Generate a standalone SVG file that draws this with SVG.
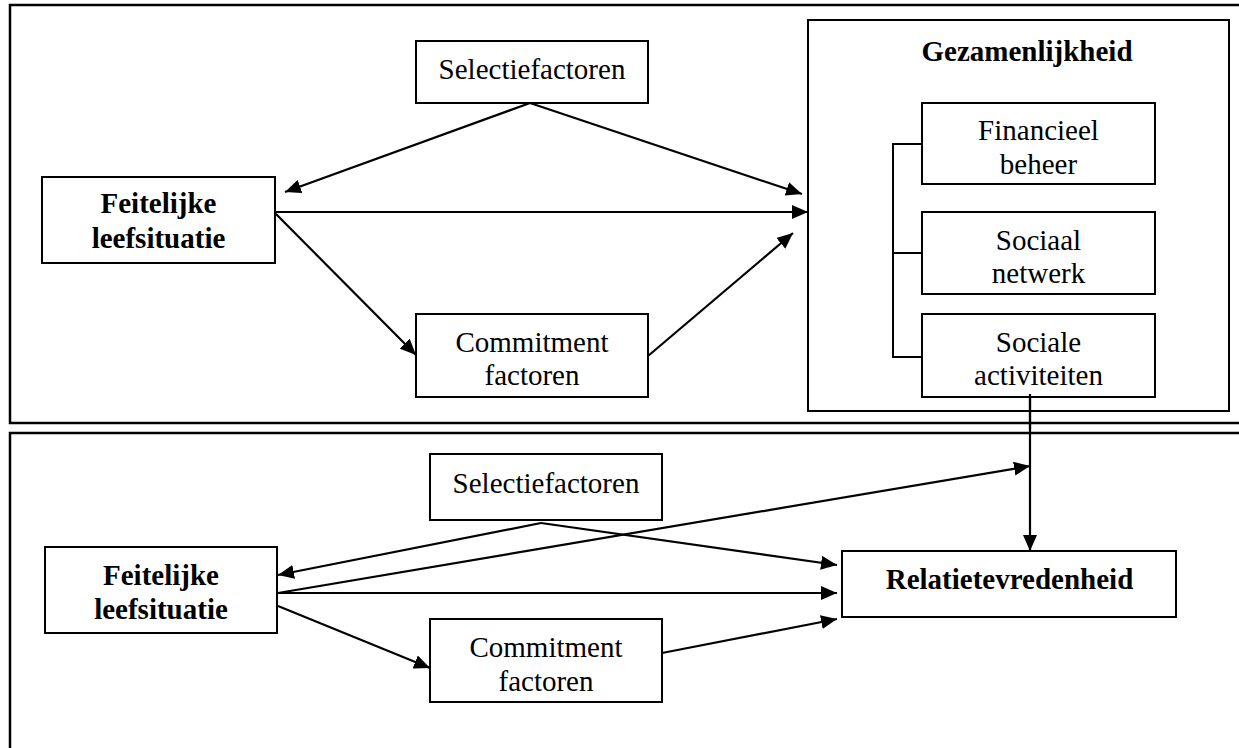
<svg xmlns="http://www.w3.org/2000/svg" width="1239" height="748" viewBox="0 0 1239 748">
<style>
  .panel { fill: none; stroke: #000; stroke-width: 2.5; }
  .box { fill: #fff; stroke: #000; stroke-width: 2; }
  .gbox { fill: none; stroke: #000; stroke-width: 2; }
  .t { font-family: "Liberation Serif", "Times New Roman", serif; font-size: 29px; fill: #000; text-anchor: middle; }
  .b { font-weight: bold; }
  .c { fill: none; stroke: #000; stroke-width: 2.2; }
  .br { fill: none; stroke: #000; stroke-width: 2; }
</style>
<defs>
  <marker id="ah" markerUnits="userSpaceOnUse" markerWidth="17" markerHeight="14" refX="16" refY="7" orient="auto">
    <path d="M0,0 L16,7 L0,14 z" fill="#000"/>
  </marker>
</defs>
<rect width="1239" height="748" fill="#fff"/>

<g id="panel-top"><rect class="panel" x="10" y="5" width="1245" height="418"/></g>
<g id="panel-bottom"><rect class="panel" x="10" y="433" width="1245" height="330"/></g>

<g id="connectors">
  <!-- top panel -->
  <line class="c" x1="530" y1="103" x2="285" y2="192" marker-end="url(#ah)"/>
  <line class="c" x1="530" y1="103" x2="802" y2="194" marker-end="url(#ah)"/>
  <line class="c" x1="275" y1="212" x2="808" y2="212" marker-end="url(#ah)"/>
  <line class="c" x1="275" y1="213" x2="416" y2="355" marker-end="url(#ah)"/>
  <line class="c" x1="648" y1="356" x2="793" y2="233" marker-end="url(#ah)"/>
  <!-- bracket -->
  <polyline class="br" points="922,144 893,144 893,357 922,357"/>
  <line class="br" x1="893" y1="253" x2="922" y2="253"/>
  <!-- vertical to Relatietevredenheid -->
  <line class="c" x1="1030" y1="394" x2="1030" y2="551" marker-end="url(#ah)"/>
  <!-- bottom panel -->
  <line class="c" x1="541" y1="523" x2="278" y2="575" marker-end="url(#ah)"/>
  <line class="c" x1="541" y1="523" x2="837" y2="565" marker-end="url(#ah)"/>
  <line class="c" x1="278" y1="593" x2="837" y2="593" marker-end="url(#ah)"/>
  <line class="c" x1="278" y1="593" x2="1030" y2="466" marker-end="url(#ah)"/>
  <line class="c" x1="278" y1="606" x2="430" y2="668" marker-end="url(#ah)"/>
  <line class="c" x1="662" y1="653" x2="837" y2="619" marker-end="url(#ah)"/>
</g>

<g id="sel-top">
  <rect class="box" x="416" y="41" width="232" height="62"/>
  <text class="t" x="532" y="79">Selectiefactoren</text>
</g>
<g id="feit-top">
  <rect class="box" x="42" y="177" width="233" height="86"/>
  <text class="t b" x="158.5" y="213">Feitelijke</text>
  <text class="t b" x="158.5" y="248">leefsituatie</text>
</g>
<g id="comm-top">
  <rect class="box" x="416" y="314" width="232" height="83"/>
  <text class="t" x="532" y="352">Commitment</text>
  <text class="t" x="532" y="385">factoren</text>
</g>
<g id="gezamenlijkheid">
  <rect class="gbox" x="808" y="20" width="421" height="391"/>
  <text class="t b" x="1027" y="61">Gezamenlijkheid</text>
</g>
<g id="financieel">
  <rect class="box" x="922" y="103" width="233" height="81"/>
  <text class="t" x="1038.5" y="140">Financieel</text>
  <text class="t" x="1038.5" y="174">beheer</text>
</g>
<g id="sociaal">
  <rect class="box" x="922" y="212" width="233" height="82"/>
  <text class="t" x="1038.5" y="250">Sociaal</text>
  <text class="t" x="1038.5" y="283">netwerk</text>
</g>
<g id="sociale">
  <rect class="box" x="922" y="314" width="233" height="83"/>
  <text class="t" x="1038.5" y="352">Sociale</text>
  <text class="t" x="1038.5" y="385">activiteiten</text>
</g>
<line class="c" x1="1030" y1="394" x2="1030" y2="430"/>

<g id="sel-bottom">
  <rect class="box" x="430" y="454" width="232" height="66"/>
  <text class="t" x="546" y="493">Selectiefactoren</text>
</g>
<g id="feit-bottom">
  <rect class="box" x="45" y="547" width="232" height="86"/>
  <text class="t b" x="161" y="585">Feitelijke</text>
  <text class="t b" x="161" y="619">leefsituatie</text>
</g>
<g id="comm-bottom">
  <rect class="box" x="430" y="619" width="232" height="83"/>
  <text class="t" x="546" y="657">Commitment</text>
  <text class="t" x="546" y="691">factoren</text>
</g>
<g id="relatietevredenheid">
  <rect class="box" x="842" y="551" width="334" height="66"/>
  <text class="t b" x="1009.5" y="589">Relatietevredenheid</text>
</g>
</svg>
